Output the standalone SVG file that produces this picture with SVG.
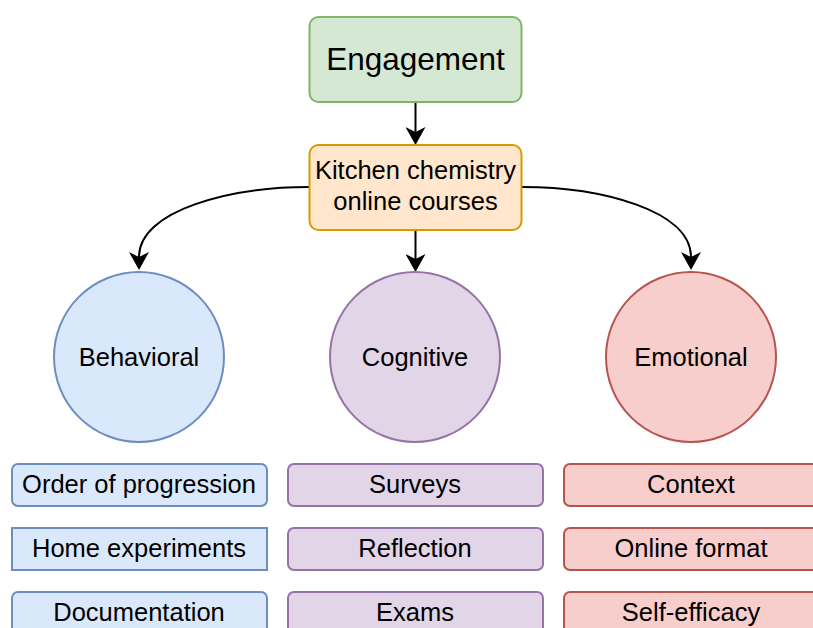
<svg xmlns="http://www.w3.org/2000/svg" width="813" height="628" viewBox="0 0 813 628">
  <style>
    text { font-family: "Liberation Sans", Arial, Helvetica, sans-serif; fill: #000; text-anchor: middle; }
    .t { font-size: 25.5px; }
    .big { font-size: 31.5px; }
    .green { fill: #d5e8d4; stroke: #82b366; stroke-width: 2; }
    .orange { fill: #ffe6cc; stroke: #d79b00; stroke-width: 2; }
    .blue { fill: #dae8fc; stroke: #6c8ebf; stroke-width: 2; }
    .purple { fill: #e1d5e7; stroke: #9673a6; stroke-width: 2; }
    .red { fill: #f8cecc; stroke: #b85450; stroke-width: 2; }
    .edge { fill: none; stroke: #000; stroke-width: 2; marker-end: url(#arrow); }
  </style>
  <defs>
    <marker id="arrow" markerUnits="userSpaceOnUse" viewBox="0 0 18 20" markerWidth="18" markerHeight="20" refX="5" refY="10" orient="auto">
      <path d="M0,0 L18,10 L0,20 L5,10 Z" fill="#000"/>
    </marker>
  </defs>
  <rect width="813" height="628" fill="#fff"/>

  <g id="connectors">
    <path class="edge" d="M415.5,102 L415.5,132"/>
    <path class="edge" d="M415.5,230 L415.5,259"/>
    <path class="edge" d="M309,187 C231,187 139,210 139,257"/>
    <path class="edge" d="M522,187 C600,187 691,210 691,257"/>
  </g>

  <g id="engagement">
    <rect class="green" x="309.5" y="17" width="212" height="85" rx="9"/>
    <text class="big" x="415.5" y="70">Engagement</text>
  </g>
  <g id="kitchen-chemistry">
    <rect class="orange" x="309.5" y="145" width="212" height="85" rx="9"/>
    <text class="t" x="415.5" y="179">Kitchen chemistry</text>
    <text class="t" x="415.5" y="210">online courses</text>
  </g>

  <g id="behavioral">
    <circle class="blue" cx="139" cy="357" r="85"/>
    <text class="t" x="139" y="366">Behavioral</text>
  </g>
  <g id="cognitive">
    <circle class="purple" cx="415" cy="357" r="85"/>
    <text class="t" x="415" y="366">Cognitive</text>
  </g>
  <g id="emotional">
    <circle class="red" cx="691" cy="357" r="85"/>
    <text class="t" x="691" y="366">Emotional</text>
  </g>

  <g id="order-of-progression">
    <rect class="blue" x="12" y="464" width="255" height="42" rx="6"/>
    <text class="t" x="139" y="493">Order of progression</text>
  </g>
  <g id="home-experiments">
    <rect class="blue" x="12" y="528" width="255" height="42"/>
    <text class="t" x="139" y="557">Home experiments</text>
  </g>
  <g id="documentation">
    <rect class="blue" x="12" y="592" width="255" height="42" rx="6"/>
    <text class="t" x="139" y="621">Documentation</text>
  </g>

  <g id="surveys">
    <rect class="purple" x="288" y="464" width="255" height="42" rx="6"/>
    <text class="t" x="415" y="493">Surveys</text>
  </g>
  <g id="reflection">
    <rect class="purple" x="288" y="528" width="255" height="42" rx="6"/>
    <text class="t" x="415" y="557">Reflection</text>
  </g>
  <g id="exams">
    <rect class="purple" x="288" y="592" width="255" height="42" rx="6"/>
    <text class="t" x="415" y="621">Exams</text>
  </g>

  <g id="context">
    <rect class="red" x="564" y="464" width="255" height="42" rx="6"/>
    <text class="t" x="691" y="493">Context</text>
  </g>
  <g id="online-format">
    <rect class="red" x="564" y="528" width="255" height="42" rx="6"/>
    <text class="t" x="691" y="557">Online format</text>
  </g>
  <g id="self-efficacy">
    <rect class="red" x="564" y="592" width="255" height="42" rx="6"/>
    <text class="t" x="691" y="621">Self-efficacy</text>
  </g>
</svg>
